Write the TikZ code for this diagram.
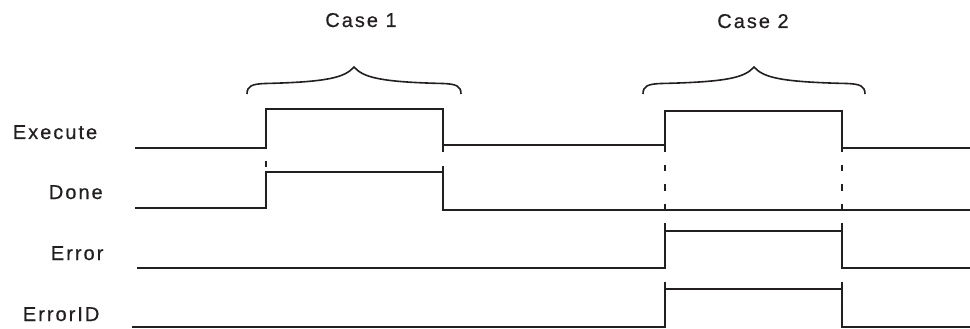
\documentclass[tikz,border=0pt]{standalone}
\usepackage{fontspec}
\setmainfont{Liberation Sans}[LetterSpace=10,FakeBold=0.6]
\definecolor{ink}{HTML}{231F20}
\begin{document}
\begin{tikzpicture}[x=1pt,y=-1pt,line width=1.8pt,
  sig/.style={draw=ink,line join=miter,line cap=butt},
  lbl/.style={anchor=base west,inner sep=0pt,text=ink,font=\fontsize{20}{23}\selectfont},
  ttl/.style={anchor=base,inner sep=0pt,text=ink,font=\fontsize{20}{23}\selectfont},
  guide/.style={draw=ink,dash pattern=on 6.5pt off 13pt},
  brc/.style={draw=ink,line width=1.6pt}]
\useasboundingbox (0,0) rectangle (970,329);
% labels
\node[lbl] (lexe) at (12,139) {Execute};
\node[lbl] (ldone) at (48,199) {Done};
\node[lbl] (lerr) at (50,260) {Error};
\node[lbl] (lid) at (22,321) {ErrorID};
\node[ttl] (case1) at (361,27) {Case 1};
\node[ttl] (case2) at (753,28) {Case 2};
% braces
\draw[brc] (247,94) .. controls (247,86) and (252,84) .. (265,83.5) .. controls (330,82) and (345,77) .. (354,67) .. controls (363,77) and (378,82) .. (443,83.5) .. controls (456,84) and (461,86) .. (461,94);
\draw[brc] (643,94) .. controls (643,86) and (648,84) .. (661,83.5) .. controls (730,82) and (745,77) .. (754,67) .. controls (763,77) and (778,82) .. (847,83.5) .. controls (860,84) and (865,86) .. (865,94);
% guides
\draw[guide] (665,145) -- (665,289);
\draw[guide] (842,145) -- (842,289);
\draw[sig] (266,161) -- (266,167);
\draw[sig] (443,166) -- (443,172);
% Execute
\draw[sig] (135,148) -- (266,148) -- (266,109) -- (443,109) -- (443,152);
\draw[sig] (443,145) -- (665,145) -- (665,111) -- (842,111) -- (842,148) -- (970,148);
% Done
\draw[sig] (135,208) -- (266,208) -- (266,172) -- (443,172) -- (443,210) -- (970,210);
% Error
\draw[sig] (137,268) -- (665,268) -- (665,231) -- (842,231) -- (842,268) -- (970,268);
% ErrorID
\draw[sig] (132,327) -- (665,327) -- (665,289) -- (842,289) -- (842,327) -- (970,327);
\end{tikzpicture}
\end{document}
